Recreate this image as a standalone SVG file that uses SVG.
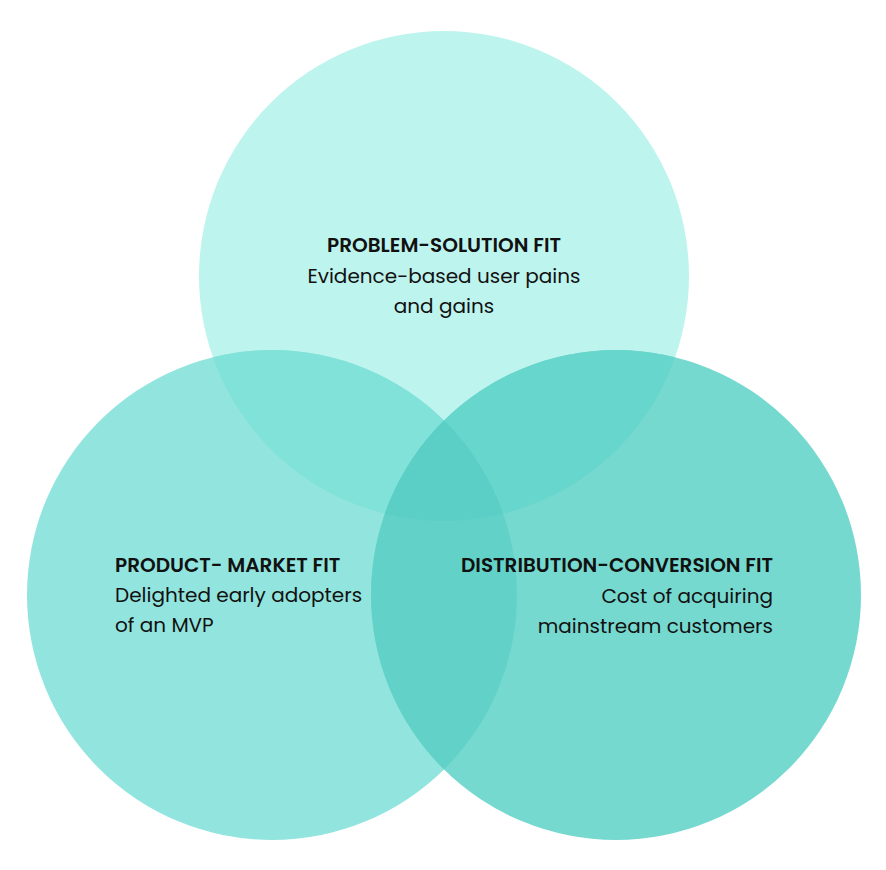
<svg xmlns="http://www.w3.org/2000/svg" width="886" height="870" viewBox="0 0 886 870">
<style>
.t{font-family:Poppins,Inter,"Liberation Sans",sans-serif;font-size:20px;fill:#111;}
.b{font-weight:600;}
</style>
<defs>
<clipPath id="cT"><circle cx="444" cy="276" r="245"/></clipPath>
<clipPath id="cL"><circle cx="272" cy="595" r="245"/></clipPath>
<clipPath id="cR"><circle cx="616" cy="595" r="245"/></clipPath>
</defs>
<rect width="886" height="870" fill="#fff"/>
<g id="top-circle"><circle cx="444" cy="276" r="245" fill="#BEF4EE"/></g>
<g id="left-circle"><circle cx="272" cy="595" r="245" fill="#92E5DE"/></g>
<g id="right-circle"><circle cx="616" cy="595" r="245" fill="#76D9D0"/></g>
<g id="overlaps">
<g clip-path="url(#cT)"><circle cx="272" cy="595" r="245" fill="#80E2D9"/><circle cx="616" cy="595" r="245" fill="#67D6CD"/></g>
<g clip-path="url(#cL)"><circle cx="616" cy="595" r="245" fill="#62D2C9"/></g>
<g clip-path="url(#cT)"><g clip-path="url(#cL)"><circle cx="616" cy="595" r="245" fill="#5BCFC6"/></g></g>
</g>
<g id="problem-solution" text-anchor="middle">
<text class="t b" x="444" y="252">PROBLEM-SOLUTION FIT</text>
<text class="t" x="444" y="283">Evidence-based user pains</text>
<text class="t" x="444" y="313">and gains</text>
</g>
<g id="product-market">
<text class="t b" x="115" y="572">PRODUCT- MARKET FIT</text>
<text class="t" x="115" y="602">Delighted early adopters</text>
<text class="t" x="115" y="632">of an MVP</text>
</g>
<g id="distribution-conversion" text-anchor="end">
<text class="t b" x="773" y="572">DISTRIBUTION-CONVERSION FIT</text>
<text class="t" x="773" y="603">Cost of acquiring</text>
<text class="t" x="773" y="633">mainstream customers</text>
</g>
</svg>
